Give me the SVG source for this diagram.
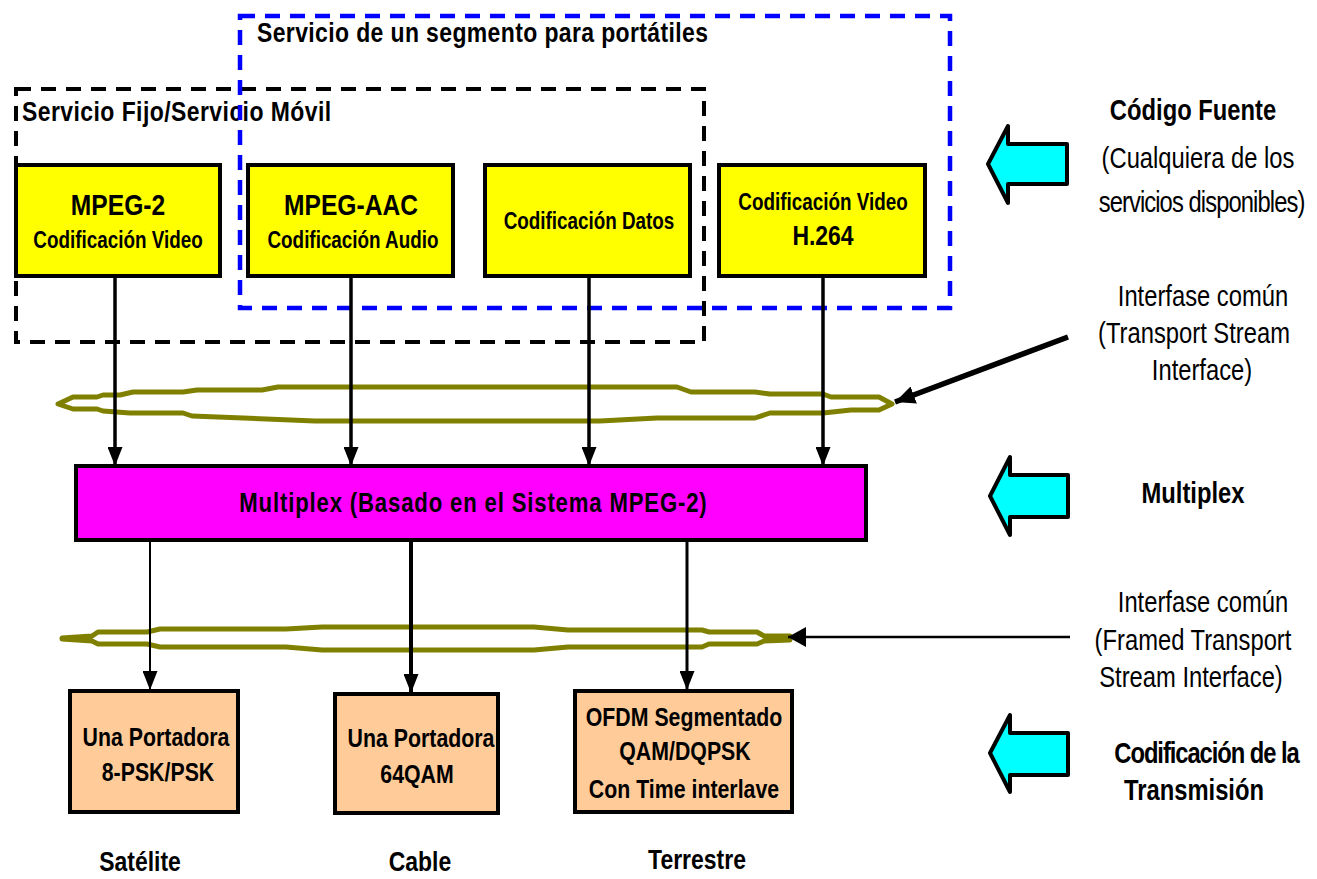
<svg xmlns="http://www.w3.org/2000/svg" width="1317" height="879" viewBox="0 0 1317 879">
<style>
.b{font-family:"Liberation Sans",Arial,sans-serif;font-weight:bold;fill:#000}
.r{font-family:"Liberation Sans",Arial,sans-serif;font-weight:normal;fill:#000}
.m{text-anchor:middle}
.box{stroke:#000;stroke-width:4}
.yel{fill:#FFFF00}
.peach{fill:#FFCC99}
.cyan{fill:#00FFFF;stroke:#000;stroke-width:4;stroke-linejoin:round}
.cable{fill:none;stroke:#808000;stroke-width:5;stroke-linejoin:round}
.ln{stroke:#000;fill:none}
</style>
<defs>
<marker id="ah" viewBox="0 0 19 15" refX="19" refY="7.5" markerWidth="19" markerHeight="15" markerUnits="userSpaceOnUse" orient="auto">
<path d="M0,0 L19,7.5 L0,15 Z" fill="#000"/>
</marker>
<marker id="ahBig" viewBox="0 0 20 18" refX="20" refY="9" markerWidth="20" markerHeight="18" markerUnits="userSpaceOnUse" orient="auto">
<path d="M0,0 L20,9 L0,18 Z" fill="#000"/>
</marker>
<marker id="ahH" viewBox="0 0 18 20" refX="18" refY="10" markerWidth="18" markerHeight="20" markerUnits="userSpaceOnUse" orient="auto">
<path d="M0,0 L18,10 L0,20 Z" fill="#000"/>
</marker>
</defs>
<rect width="1317" height="879" fill="#fff"/>

<g id="grp-fijo">
<rect x="16" y="89" width="688" height="253" fill="none" stroke="#000" stroke-width="4" stroke-dasharray="15 10"/>
<text class="b" font-size="28" transform="translate(22,121) scale(0.82,1)" textLength="377" lengthAdjust="spacing">Servicio Fijo/Servicio Móvil</text>
</g>
<g id="grp-portatiles">
<rect x="240" y="16" width="710" height="292" fill="none" stroke="#0000FF" stroke-width="4.5" stroke-dasharray="15 10"/>
<text class="b" font-size="28" transform="translate(257,42) scale(0.82,1)" textLength="550" lengthAdjust="spacing">Servicio de un segmento para portátiles</text>
</g>

<g id="cables">
<path class="cable" d="M58,404 L73,397 L97,397 L103,395 L120,395 L133,392 L183,392 L197,390 L262,390 L278,387 L677,387 L691,392 L755,392 L770,394 L823,394 L831,397 L879,397 L892,404 L879,410 L851,410 L823,413 L770,413 L755,418 L657,418 L600,421 L315,421 L192,416 L183,413 L130,413 L103,411 L97,409 L73,409 Z"/>
<path class="cable" d="M62,638 L92,636 L98,632 L147,632 L160,629 L286,629 L322,627 L534,627 L568,630 L702,630 L709,632 L757,632 L764,636 L790,636 L790,640 L764,641 L757,644 L709,644 L702,647 L568,647 L534,650 L322,650 L286,647 L160,647 L147,644 L98,644 L92,641 L62,639 Z"/>
</g>

<g id="connectors">
<line class="ln" x1="115" y1="278" x2="115" y2="466" stroke-width="3.5" marker-end="url(#ah)"/>
<line class="ln" x1="351" y1="278" x2="351" y2="466" stroke-width="3.5" marker-end="url(#ah)"/>
<line class="ln" x1="589" y1="278" x2="589" y2="466" stroke-width="3.5" marker-end="url(#ah)"/>
<line class="ln" x1="823" y1="278" x2="823" y2="466" stroke-width="3.5" marker-end="url(#ah)"/>
<line class="ln" x1="150" y1="542" x2="150" y2="690" stroke-width="2" marker-end="url(#ah)"/>
<line class="ln" x1="411" y1="542" x2="411" y2="693" stroke-width="4" marker-end="url(#ah)"/>
<line class="ln" x1="687" y1="542" x2="687" y2="690" stroke-width="3" marker-end="url(#ah)"/>
<line class="ln" x1="1068" y1="337" x2="895" y2="402" stroke-width="5.5" marker-end="url(#ahBig)"/>
<line class="ln" x1="1070" y1="637" x2="788" y2="637" stroke-width="2.5" marker-end="url(#ahH)"/>
</g>

<g id="node-mpeg2">
<rect class="box yel" x="16" y="165" width="204" height="111"/>
<text class="b m" font-size="30" transform="translate(118,215) scale(0.82,1)">MPEG-2</text>
<text class="b m" font-size="23" transform="translate(118,248) scale(0.82,1)">Codificación Video</text>
</g>
<g id="node-aac">
<rect class="box yel" x="248" y="165" width="205" height="111"/>
<text class="b m" font-size="30" transform="translate(351,215) scale(0.82,1)">MPEG-AAC</text>
<text class="b m" font-size="23" transform="translate(353,248) scale(0.82,1)">Codificación Audio</text>
</g>
<g id="node-datos">
<rect class="box yel" x="485" y="165" width="205" height="111"/>
<text class="b m" font-size="23" transform="translate(589,229) scale(0.82,1)">Codificación Datos</text>
</g>
<g id="node-h264">
<rect class="box yel" x="719" y="165" width="206" height="111"/>
<text class="b m" font-size="23" transform="translate(823,210) scale(0.82,1)">Codificación Video</text>
<text class="b m" font-size="28" transform="translate(823,245) scale(0.82,1)">H.264</text>
</g>

<g id="node-multiplex">
<rect class="box" x="76" y="466" width="790" height="74" fill="#FF00FF"/>
<text class="b m" font-size="27" transform="translate(473,512) scale(0.82,1)" textLength="570" lengthAdjust="spacing">Multiplex (Basado en el Sistema MPEG-2)</text>
</g>

<g id="node-satelite">
<rect class="box peach" x="70" y="691" width="168" height="121"/>
<text class="b m" font-size="26" transform="translate(156,746) scale(0.82,1)">Una Portadora</text>
<text class="b m" font-size="26" transform="translate(158,781) scale(0.82,1)">8-PSK/PSK</text>
</g>
<g id="node-cable">
<rect class="box peach" x="335" y="694" width="163" height="119"/>
<text class="b m" font-size="26" transform="translate(421,747) scale(0.82,1)">Una Portadora</text>
<text class="b m" font-size="26" transform="translate(417,783) scale(0.82,1)">64QAM</text>
</g>
<g id="node-terrestre">
<rect class="box peach" x="575" y="691" width="217" height="121"/>
<text class="b m" font-size="26" transform="translate(684,726) scale(0.82,1)">OFDM Segmentado</text>
<text class="b m" font-size="26" transform="translate(685,760) scale(0.82,1)">QAM/DQPSK</text>
<text class="b m" font-size="26" transform="translate(684,798) scale(0.82,1)">Con Time interlave</text>
</g>

<g id="labels-bottom">
<text class="b m" font-size="28" transform="translate(140,871) scale(0.82,1)">Satélite</text>
<text class="b m" font-size="28" transform="translate(420,871) scale(0.82,1)">Cable</text>
<text class="b m" font-size="28" transform="translate(697,869) scale(0.82,1)">Terrestre</text>
</g>

<g id="arrow-fuente">
<path class="cyan" d="M988,164 L1008,126 L1008,144 L1067,144 L1067,184 L1008,184 L1008,203 Z"/>
<text class="b m" font-size="29" transform="translate(1193,120) scale(0.82,1)">Código Fuente</text>
<text class="r m" font-size="29" transform="translate(1198,168) scale(0.82,1)">(Cualquiera de los</text>
<text class="r m" font-size="29" transform="translate(1202,212) scale(0.82,1)" textLength="252" lengthAdjust="spacing">servicios disponibles)</text>
</g>
<g id="label-ts">
<text class="r m" font-size="29" transform="translate(1203,306) scale(0.82,1)">Interfase común</text>
<text class="r m" font-size="29" transform="translate(1194,343) scale(0.82,1)">(Transport Stream</text>
<text class="r m" font-size="29" transform="translate(1202,380) scale(0.82,1)">Interface)</text>
</g>
<g id="arrow-multiplex">
<path class="cyan" d="M990,496 L1010,457 L1010,475 L1068,475 L1068,517 L1010,517 L1010,535 Z"/>
<text class="b m" font-size="29" transform="translate(1193,503) scale(0.82,1)">Multiplex</text>
</g>
<g id="label-fts">
<text class="r m" font-size="29" transform="translate(1203,612) scale(0.82,1)">Interfase común</text>
<text class="r m" font-size="29" transform="translate(1193,650) scale(0.82,1)">(Framed Transport</text>
<text class="r m" font-size="29" transform="translate(1191,687) scale(0.82,1)">Stream Interface)</text>
</g>
<g id="arrow-transmision">
<path class="cyan" d="M990,753 L1010,715 L1010,733 L1068,733 L1068,775 L1010,775 L1010,792 Z"/>
<text class="b m" font-size="29" transform="translate(1207,763) scale(0.82,1)" textLength="226" lengthAdjust="spacing">Codificación de la</text>
<text class="b m" font-size="29" transform="translate(1194,800) scale(0.82,1)">Transmisión</text>
</g>
</svg>
